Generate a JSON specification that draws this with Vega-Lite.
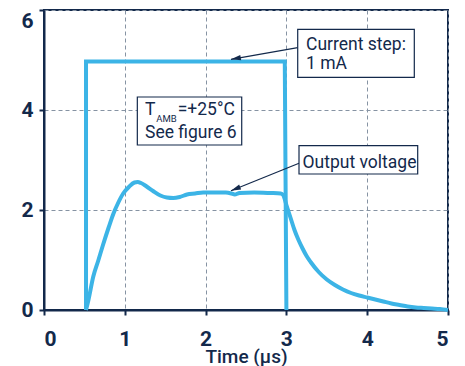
{
  "$schema": "https://vega.github.io/schema/vega-lite/v6.json",
  "autosize": {"type": "none"},
  "padding": {"left": 44, "top": 10, "right": 17, "bottom": 56},
  "width": 404,
  "height": 300,
  "background": "white",
  "config": {
    "view": {"stroke": "#13294b", "strokeWidth": 2},
    "font": "Roboto",
    "axis": {
      "labelFont": "Roboto",
      "labelFontSize": 21,
      "labelFontWeight": "bold",
      "labelColor": "#13294b",
      "titleFont": "Roboto",
      "titleFontSize": 19,
      "titleFontWeight": 500,
      "titleColor": "#13294b",
      "domainColor": "#13294b",
      "domainWidth": 2,
      "tickColor": "#13294b",
      "tickWidth": 2,
      "tickSize": 5,
      "gridColor": "#8693a3",
      "gridDash": [4, 3],
      "gridWidth": 1,
      "gridOpacity": 1
    }
  },
  "datasets": {
    "step": [
      {"i": 0, "x": 0.52, "y": 0},
      {"i": 1, "x": 0.52, "y": 4.97},
      {"i": 2, "x": 2.98, "y": 4.97},
      {"i": 3, "x": 3.0, "y": 0}
    ],
    "vout": [
      {"x": 0.52, "y": 0}, {"x": 0.55, "y": 0.2}, {"x": 0.61, "y": 0.67}, {"x": 0.67, "y": 0.98},
      {"x": 0.73, "y": 1.3}, {"x": 0.8, "y": 1.65}, {"x": 0.86, "y": 1.93}, {"x": 0.92, "y": 2.15},
      {"x": 0.98, "y": 2.33}, {"x": 1.05, "y": 2.46}, {"x": 1.12, "y": 2.55}, {"x": 1.16, "y": 2.56},
      {"x": 1.2, "y": 2.54}, {"x": 1.27, "y": 2.47}, {"x": 1.35, "y": 2.38}, {"x": 1.44, "y": 2.29},
      {"x": 1.52, "y": 2.25}, {"x": 1.6, "y": 2.24}, {"x": 1.68, "y": 2.26}, {"x": 1.77, "y": 2.31},
      {"x": 1.87, "y": 2.33}, {"x": 1.97, "y": 2.35}, {"x": 2.1, "y": 2.35}, {"x": 2.25, "y": 2.35},
      {"x": 2.32, "y": 2.33}, {"x": 2.36, "y": 2.31}, {"x": 2.42, "y": 2.34}, {"x": 2.6, "y": 2.35},
      {"x": 2.8, "y": 2.34}, {"x": 2.93, "y": 2.33}, {"x": 2.96, "y": 2.3}, {"x": 3.0, "y": 2.1},
      {"x": 3.05, "y": 1.85}, {"x": 3.1, "y": 1.6}, {"x": 3.15, "y": 1.4}, {"x": 3.2, "y": 1.23},
      {"x": 3.25, "y": 1.08}, {"x": 3.3, "y": 0.96}, {"x": 3.4, "y": 0.76}, {"x": 3.5, "y": 0.61},
      {"x": 3.6, "y": 0.5}, {"x": 3.7, "y": 0.41}, {"x": 3.8, "y": 0.34}, {"x": 3.9, "y": 0.29},
      {"x": 4.0, "y": 0.25}, {"x": 4.1, "y": 0.21}, {"x": 4.2, "y": 0.17}, {"x": 4.3, "y": 0.13},
      {"x": 4.4, "y": 0.1}, {"x": 4.5, "y": 0.07}, {"x": 4.6, "y": 0.05}, {"x": 4.7, "y": 0.04},
      {"x": 4.8, "y": 0.03}, {"x": 4.9, "y": 0.02}, {"x": 5.0, "y": 0.0}
    ],
    "boxes": [
      {"x": 3.14, "x2": 4.583, "y": 5.614, "y2": 4.654},
      {"x": 1.155, "x2": 2.447, "y": 4.26, "y2": 3.3},
      {"x": 3.156, "x2": 4.625, "y": 3.286, "y2": 2.72}
    ],
    "arrows": [
      {"id": "a", "x": 3.14, "y": 5.246, "x2": 2.314, "y2": 5.014},
      {"id": "b", "x": 3.156, "y": 2.934, "x2": 2.314, "y2": 2.386}
    ],
    "labels": [
      {"x": 3.243, "y": 5.21, "text": "Current step:"},
      {"x": 3.243, "y": 4.82, "text": "1 mA"},
      {"x": 3.2, "y": 2.85, "text": "Output voltage"},
      {"x": 1.25, "y": 3.9, "text": "T"},
      {"x": 1.655, "y": 3.9, "text": "=+25°C"},
      {"x": 1.25, "y": 3.45, "text": "See figure 6"}
    ],
    "subs": [
      {"x": 1.39, "y": 3.76, "text": "AMB"}
    ]
  },
  "layer": [
    {
      "data": {"name": "step"},
      "mark": {"type": "line", "color": "#3cb4e6", "strokeWidth": 4, "strokeJoin": "miter"},
      "encoding": {
        "x": {"field": "x", "type": "quantitative", "scale": {"domain": [0, 5], "nice": false},
              "axis": {"values": [0, 1, 2, 3, 4, 5], "title": "Time (µs)", "labelPadding": 13, "titleY": 52, "titleBaseline": "alphabetic", "format": "d"}},
        "y": {"field": "y", "type": "quantitative", "scale": {"domain": [0, 6], "nice": false},
              "axis": {"values": [0, 2, 4, 6], "title": null, "labelPadding": 6, "format": "d",
                       "labelBaseline": {"condition": {"test": "datum.value == 6", "value": "top"}, "value": "middle"}}},
        "order": {"field": "i", "type": "quantitative"}
      }
    },
    {
      "data": {"name": "vout"},
      "mark": {"type": "line", "color": "#3cb4e6", "strokeWidth": 4, "interpolate": "monotone"},
      "encoding": {
        "x": {"field": "x", "type": "quantitative"},
        "y": {"field": "y", "type": "quantitative"}
      }
    },
    {
      "data": {"name": "arrows"},
      "mark": {"type": "rule", "color": "#13294b", "strokeWidth": 1.2},
      "encoding": {
        "x": {"field": "x", "type": "quantitative"},
        "y": {"field": "y", "type": "quantitative"},
        "x2": {"field": "x2"},
        "y2": {"field": "y2"}
      }
    },
    {
      "data": {"name": "arrows"},
      "transform": [{"filter": "datum.id == 'a'"}],
      "mark": {"type": "point", "shape": "M0,0L-0.6,2.2L0.6,2.2Z", "size": 81, "angle": 260, "filled": true, "opacity": 1, "color": "#13294b"},
      "encoding": {
        "x": {"field": "x2", "type": "quantitative"},
        "y": {"field": "y2", "type": "quantitative"}
      }
    },
    {
      "data": {"name": "arrows"},
      "transform": [{"filter": "datum.id == 'b'"}],
      "mark": {"type": "point", "shape": "M0,0L-0.6,2.2L0.6,2.2Z", "size": 81, "angle": 248, "filled": true, "opacity": 1, "color": "#13294b"},
      "encoding": {
        "x": {"field": "x2", "type": "quantitative"},
        "y": {"field": "y2", "type": "quantitative"}
      }
    },
    {
      "data": {"name": "boxes"},
      "mark": {"type": "rect", "fill": "white", "stroke": "#13294b", "strokeWidth": 1.2},
      "encoding": {
        "x": {"field": "x", "type": "quantitative"},
        "x2": {"field": "x2"},
        "y": {"field": "y", "type": "quantitative"},
        "y2": {"field": "y2"}
      }
    },
    {
      "data": {"name": "labels"},
      "mark": {"type": "text", "align": "left", "baseline": "alphabetic", "font": "Roboto", "fontSize": 17.5, "color": "#13294b"},
      "encoding": {
        "x": {"field": "x", "type": "quantitative"},
        "y": {"field": "y", "type": "quantitative"},
        "text": {"field": "text"}
      }
    },
    {
      "data": {"name": "subs"},
      "mark": {"type": "text", "align": "left", "baseline": "alphabetic", "font": "Roboto", "fontSize": 9.5, "color": "#13294b"},
      "encoding": {
        "x": {"field": "x", "type": "quantitative"},
        "y": {"field": "y", "type": "quantitative"},
        "text": {"field": "text"}
      }
    }
  ]
}
